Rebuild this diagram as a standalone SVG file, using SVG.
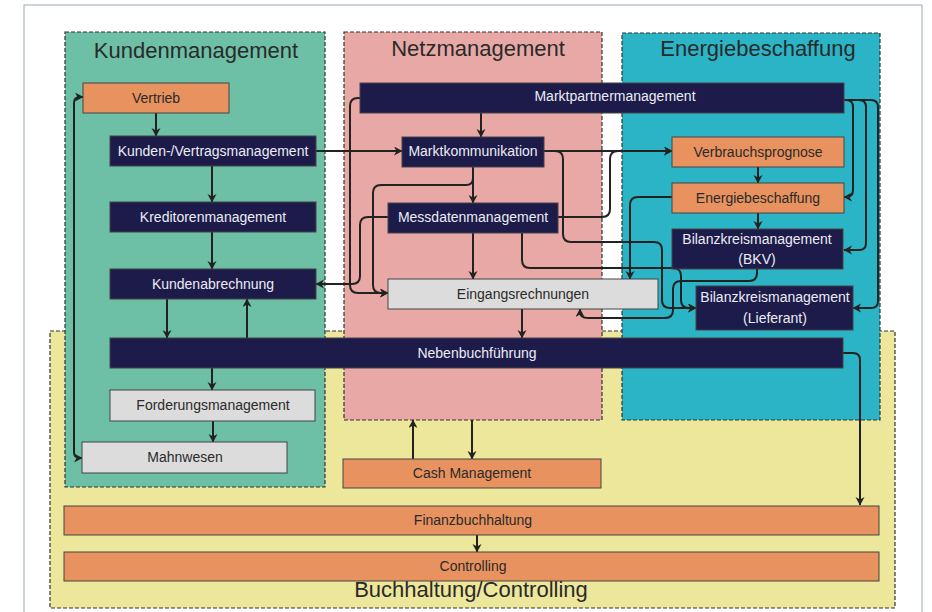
<svg xmlns="http://www.w3.org/2000/svg" width="932" height="612" viewBox="0 0 932 612">
<style>
.grp{stroke:#333;stroke-width:1.2;stroke-dasharray:4 2}
.title{font-family:"Liberation Sans",Arial,sans-serif;font-size:22px;fill:#2a2a2a;text-anchor:middle}
.n rect{stroke:#444;stroke-width:1}
.navy rect{fill:#1c1b4a}
.org rect{fill:#e8925f}
.gry rect{fill:#dcdcdc}
.n text{font-family:"Liberation Sans",Arial,sans-serif;font-size:14px;text-anchor:middle}
.navy text{fill:#ececf4}
.org text,.gry text{fill:#2a2a2a}
.c path{fill:none;stroke:#222;stroke-width:2;marker-end:url(#ah)}
</style>
<defs>
<marker id="ah" markerUnits="userSpaceOnUse" markerWidth="10" markerHeight="10" refX="8" refY="4.5" orient="auto-start-reverse">
<path d="M0,0 L8.5,4.5 L0,9 L2.5,4.5 z" fill="#222"/>
</marker>
</defs>
<rect x="24" y="5" width="898" height="620" fill="#fff" stroke="#9aa8b4" stroke-width="1"/>
<g id="grp-buchhaltung">
<rect class="grp" x="50" y="331" width="845" height="277" fill="#ece79b"/>
<text class="title" x="471" y="597">Buchhaltung/Controlling</text>
</g>
<g id="grp-kunden">
<rect class="grp" x="65" y="32" width="260" height="455" fill="#6dbfa6"/>
<text class="title" x="196" y="58">Kundenmanagement</text>
</g>
<g id="grp-netz">
<rect class="grp" x="344" y="32" width="258" height="388" fill="#e8a9a6"/>
<text class="title" x="478" y="56">Netzmanagement</text>
</g>
<g id="grp-energie">
<rect class="grp" x="622" y="33" width="258" height="387" fill="#2bb4c6"/>
<text class="title" x="758" y="56">Energiebeschaffung</text>
</g>
<g class="c" id="connectors">
<path d="M156,113 V136"/>
<path d="M212,166 V202"/>
<path d="M212,232 V269"/>
<path d="M167,299 V338"/>
<path d="M247,338 V299"/>
<path d="M212,368 V390"/>
<path d="M213,421 V442"/>
<path d="M82,458 L80,458 Q74,458 74,452 V103 Q74,97 80,97 L83,97" marker-start="url(#ah)"/>
<path d="M316,151 H402"/>
<path d="M481,113 V137"/>
<path d="M473,167 V203"/>
<path d="M473,167 V178 Q473,185 466,185 H381 Q373,185 373,193 V285 Q373,293 381,293 H388"/>
<path d="M360,98 H358 Q350,98 350,106 V285 Q350,293 358,293 H388"/>
<path d="M388,217 H368 Q360,217 360,225 V276 Q360,284 352,284 H316"/>
<path d="M544,151 H672"/>
<path d="M558,217 H602 Q610,217 610,209 V159 Q610,151 618,151 H672"/>
<path d="M544,151 H555 Q563,151 563,159 V234 Q563,242 571,242 H654 Q662,242 662,250 V300 Q662,308 670,308 H696"/>
<path d="M522,233 V260 Q522,268 530,268 H673 Q681,268 681,276 V300 Q681,308 689,308 H696"/>
<path d="M672,197 H638 Q630,197 630,205 V279"/>
<path d="M757,269 V273 Q757,281 749,281 H681 Q673,281 673,289 V310 Q673,318 665,318 H588 Q580,318 580,312 V309"/>
<path d="M473,233 V279"/>
<path d="M522,309 V338"/>
<path d="M758,167 V183"/>
<path d="M758,213 V229"/>
<path d="M844,100 H846 Q853,100 853,107 V190 Q853,197 846,197 H844"/>
<path d="M844,100 H859 Q866,100 866,107 V243 Q866,250 859,250 H844"/>
<path d="M844,100 H871 Q878,100 878,107 V301 Q878,308 871,308 H853"/>
<path d="M843,353 H853 Q860,353 860,360 V505"/>
<path d="M413,459 V420"/>
<path d="M472,420 V459"/>
<path d="M477,535 V552"/>
</g>
<g id="n-vertrieb" class="n org"><rect x="83" y="83" width="146" height="30"/><text x="156" y="103">Vertrieb</text></g>
<g id="n-kundenvertrag" class="n navy"><rect x="110" y="136" width="206" height="30"/><text x="213" y="156">Kunden-/Vertragsmanagement</text></g>
<g id="n-kreditoren" class="n navy"><rect x="110" y="202" width="206" height="30"/><text x="213" y="222">Kreditorenmanagement</text></g>
<g id="n-kundenabrechnung" class="n navy"><rect x="110" y="269" width="206" height="30"/><text x="213" y="289">Kundenabrechnung</text></g>
<g id="n-nebenbuch" class="n navy"><rect x="110" y="338" width="733" height="30"/><text x="477" y="358">Nebenbuchführung</text></g>
<g id="n-forderung" class="n gry"><rect x="110" y="390" width="205" height="31"/><text x="213" y="410">Forderungsmanagement</text></g>
<g id="n-mahnwesen" class="n gry"><rect x="82" y="442" width="205" height="31"/><text x="185" y="462">Mahnwesen</text></g>
<g id="n-marktpartner" class="n navy"><rect x="360" y="83" width="484" height="30"/><text x="615" y="101">Marktpartnermanagement</text></g>
<g id="n-marktkomm" class="n navy"><rect x="402" y="137" width="142" height="30"/><text x="473" y="156">Marktkommunikation</text></g>
<g id="n-messdaten" class="n navy"><rect x="388" y="203" width="170" height="30"/><text x="473" y="222">Messdatenmanagement</text></g>
<g id="n-eingang" class="n gry"><rect x="388" y="279" width="270" height="30"/><text x="523" y="299">Eingangsrechnungen</text></g>
<g id="n-verbrauch" class="n org"><rect x="672" y="137" width="172" height="30"/><text x="758" y="157">Verbrauchsprognose</text></g>
<g id="n-energiebeschaffung" class="n org"><rect x="672" y="183" width="172" height="30"/><text x="758" y="203">Energiebeschaffung</text></g>
<g id="n-bkv" class="n navy"><rect x="672" y="229" width="171" height="40"/><text x="757" y="244">Bilanzkreismanagement</text><text x="757" y="264">(BKV)</text></g>
<g id="n-lieferant" class="n navy"><rect x="696" y="286" width="157" height="44"/><text x="775" y="302">Bilanzkreismanagement</text><text x="775" y="323">(Lieferant)</text></g>
<g id="n-cash" class="n org"><rect x="343" y="459" width="258" height="29"/><text x="472" y="478">Cash Management</text></g>
<g id="n-finanz" class="n org"><rect x="64" y="506" width="815" height="29"/><text x="473" y="525">Finanzbuchhaltung</text></g>
<g id="n-controlling" class="n org"><rect x="64" y="552" width="815" height="29"/><text x="473" y="571">Controlling</text></g>
</svg>
